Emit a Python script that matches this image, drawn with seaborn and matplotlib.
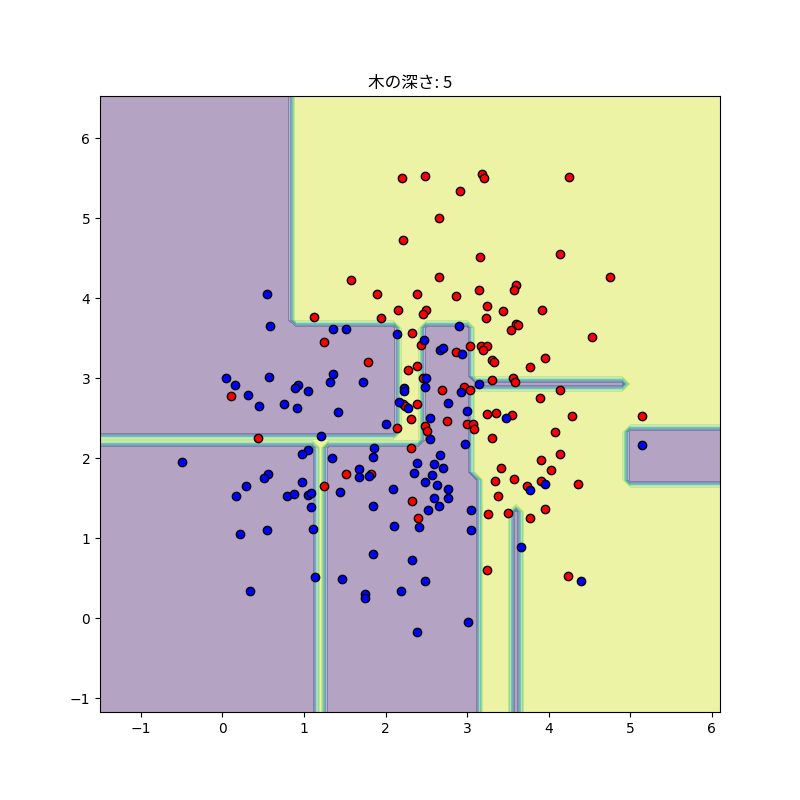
import numpy as np
import matplotlib
matplotlib.use("Agg")
import matplotlib.pyplot as plt
import seaborn as sns


# class 1 (red) points
red_x = [2.20, 2.49, 3.18, 3.21, 4.25, 2.91, 2.66, 2.22, 3.16, 4.14,
         1.58, 2.65, 4.75, 1.90, 2.38, 2.86, 3.14, 3.60, 3.58, 3.92,
         2.15, 2.50, 2.46, 3.25, 3.44, 3.23, 1.95, 1.12, 3.60, 3.63,
         3.54, 2.33, 2.44, 2.86, 3.04, 3.17, 3.25, 3.19, 3.30, 3.33,
         1.78, 2.27, 2.38, 2.46, 2.69, 2.96, 3.04, 3.31, 2.21, 2.24,
         2.39, 3.24, 3.36, 2.31, 2.75, 2.14, 2.49, 2.51, 3.00, 3.07,
         3.08, 3.31, 2.31, 1.52, 1.82, 3.42, 3.34, 2.32, 3.38, 4.53,
         3.96, 3.77, 3.56, 3.59, 4.14, 3.89, 3.55, 4.29, 5.15, 4.08,
         4.14, 3.91, 4.03, 3.57, 3.73, 3.90, 4.36, 3.95, 3.77, 4.24,
         3.26, 3.50, 3.24, 2.40, 0.10, 0.44, 1.24, 1.24]
red_y = [5.51, 5.53, 5.55, 5.50, 5.52, 5.34, 5.01, 4.73, 4.52, 4.56,
         4.23, 4.27, 4.27, 4.05, 4.05, 4.03, 4.10, 4.17, 4.11, 3.86,
         3.86, 3.85, 3.81, 3.91, 3.84, 3.76, 3.76, 3.77, 3.68, 3.67,
         3.61, 3.57, 3.42, 3.33, 3.40, 3.40, 3.41, 3.35, 3.23, 3.20,
         3.20, 3.11, 3.16, 3.00, 2.86, 2.89, 2.85, 2.98, 2.68, 2.65,
         2.68, 2.56, 2.57, 2.49, 2.47, 2.38, 2.40, 2.34, 2.43, 2.43,
         2.37, 2.26, 2.13, 1.81, 1.81, 1.88, 1.72, 1.47, 1.53, 3.52,
         3.25, 3.14, 3.01, 2.95, 2.85, 2.75, 2.54, 2.53, 2.53, 2.33,
         2.06, 1.98, 1.86, 1.74, 1.66, 1.72, 1.68, 1.37, 1.25, 0.53,
         1.31, 1.32, 0.61, 1.25, 2.78, 2.25, 3.45, 1.65]

# class 0 (blue) points
blue_x = [0.55, 0.58, 1.36, 1.51, 2.90, 2.14, 2.47, 2.67, 2.70, 2.94,
          1.73, 2.50, 2.48, 2.23, 2.23, 2.92, 3.15, 2.16, 2.28, 2.77,
          3.00, 3.48, 2.54, 2.00, 2.55, 2.97, 1.86, 1.85, 2.67, 2.39,
          2.59, 2.71, 1.68, 1.68, 1.80, 2.35, 2.57, 2.49, 2.63, 2.09,
          2.76, 2.60, 2.76, 1.44, 0.05, 0.15, 0.57, 0.93, 0.89, 1.05,
          1.36, 1.32, 0.31, 0.45, 0.76, 0.91, 1.42, 1.21, 1.05, 0.98,
          1.35, -0.50, 0.56, 0.51, 0.29, 0.98, 0.17, 0.79, 0.88, 1.05,
          1.09, 1.09, 1.11, 0.55, 0.22, 1.14, 0.34, 1.47, 1.85, 2.52,
          2.65, 3.05, 2.11, 2.41, 3.05, 1.85, 2.32, 2.49, 2.19, 1.75,
          1.75, 3.01, 2.39, 3.66, 4.40, 3.77, 3.95, 5.14]
blue_y = [4.05, 3.65, 3.62, 3.62, 3.65, 3.55, 3.48, 3.35, 3.38, 3.31,
          2.95, 3.01, 2.89, 2.88, 2.84, 2.83, 2.93, 2.71, 2.63, 2.69,
          2.59, 2.50, 2.51, 2.43, 2.24, 2.18, 2.13, 2.02, 2.04, 1.94,
          1.93, 1.88, 1.87, 1.77, 1.78, 1.82, 1.79, 1.70, 1.67, 1.62,
          1.62, 1.50, 1.50, 1.58, 3.00, 2.92, 3.02, 2.92, 2.88, 2.84,
          3.05, 2.95, 2.79, 2.65, 2.68, 2.63, 2.58, 2.28, 2.11, 2.06,
          2.00, 1.95, 1.80, 1.75, 1.65, 1.70, 1.53, 1.53, 1.56, 1.54,
          1.57, 1.39, 1.12, 1.11, 1.05, 0.52, 0.34, 0.49, 1.41, 1.36,
          1.40, 1.36, 1.16, 1.14, 1.10, 0.81, 0.73, 0.47, 0.34, 0.30,
          0.25, -0.04, -0.17, 0.89, 0.47, 1.61, 1.68, 2.17]

# leaf regions of the depth-5 tree, painted in order (1 = red class, 0 = blue class)
inf = np.inf
region_x0 = [0.846, 2.146, -inf, 1.146, 3.046, 3.146, 3.046, 3.546, 4.946]
region_x1 = [inf, 2.446, 2.446, 1.246, inf, inf, 4.946, 3.646, inf]
region_y0 = [3.675, 2.175, 2.175, -inf, 1.775, -inf, 2.875, -inf, 1.675]
region_y1 = [inf, 3.675, 2.275, 2.275, 3.675, 1.775, 2.975, 1.375, 2.375]
region_label = [1, 1, 1, 1, 1, 1, 0, 0, 0]


all_x = np.array(red_x + blue_x)
all_y = np.array(red_y + blue_y)

x_min, x_max = all_x.min() - 1, all_x.max() + 1
y_min, y_max = all_y.min() - 1, all_y.max() + 1

xx, yy = np.meshgrid(
    np.arange(x_min, x_max, 0.1),
    np.arange(y_min, y_max, 0.1)
)

Z = np.zeros(xx.shape)

for x0, x1, y0, y1, lab in zip(
    region_x0, region_x1, region_y0, region_y1, region_label
):
    mask = (xx >= x0) & (xx < x1) & (yy >= y0) & (yy < y1)
    Z[mask] = lab


fig, ax = plt.subplots(figsize=(8, 8), dpi=100)

ax.contourf(xx, yy, Z, alpha=0.4)

sns.scatterplot(
    x=red_x,
    y=red_y,
    color="red",
    edgecolor="k",
    linewidth=1,
    s=36,
    ax=ax
)

sns.scatterplot(
    x=blue_x,
    y=blue_y,
    color="blue",
    edgecolor="k",
    linewidth=1,
    s=36,
    ax=ax
)

ax.set_title(
    "木の深さ: 5",
    family=["Noto Sans CJK JP", "DejaVu Sans"]
)

plt.savefig("out.png")
plt.close()
